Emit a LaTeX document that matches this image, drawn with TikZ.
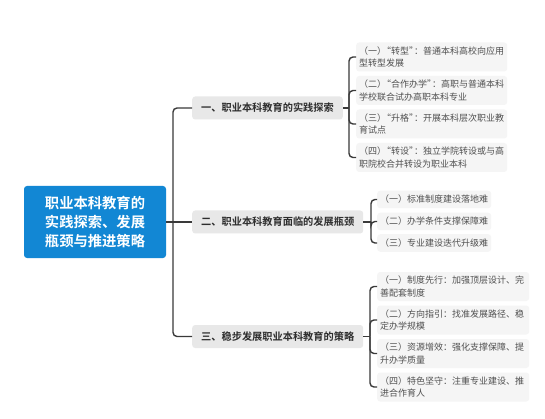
\documentclass[tikz,border=0pt]{standalone}
\usepackage{fontspec}
\newfontfamily\cjk{Noto Sans CJK SC}
\newfontfamily\cjkb{Noto Sans CJK SC Bold}
\definecolor{rootblue}{HTML}{1287D4}
\definecolor{branchgray}{HTML}{E8E8E8}
\definecolor{leafgray}{HTML}{F5F5F5}
\definecolor{branchtext}{HTML}{2E2E2E}
\definecolor{leaftext}{HTML}{505050}
\definecolor{linecol}{HTML}{3A3A3A}
\newcommand{\myopq}{\makebox[0.55em][r]{“}}
\newcommand{\myclq}{\makebox[0.55em][l]{”}}
\begin{document}
\begin{tikzpicture}[x=1pt,y=-1pt,
  rootbox/.style={fill=rootblue, rounded corners=3pt, text=white,
    font=\cjkb\fontsize{14.3}{19}\selectfont, align=center,
    minimum width=142pt, minimum height=72pt, inner sep=0pt},
  branchbox/.style={fill=branchgray, rounded corners=3pt, text=branchtext,
    font=\cjkb\fontsize{10.2}{12}\selectfont, anchor=west,
    minimum height=23pt, inner xsep=9pt, inner ysep=0pt},
  leafbox/.style={fill=leafgray, rounded corners=3pt, text=leaftext,
    font=\cjk\fontsize{9}{12.5}\selectfont, anchor=west, align=left,
    inner xsep=3pt, inner ysep=2pt},
  leaftwo/.style={leafbox, minimum height=29pt},
  leafone/.style={leafbox, minimum height=17.5pt},
  conn/.style={draw=linecol, line width=1.4pt, rounded corners=4pt}
]
\useasboundingbox (0,0) rectangle (545,419);
\fill[white] (0,0) rectangle (545,419);

\node[rootbox] (root) at (95,222) {职业本科教育的\\实践探索、发展\\瓶颈与推进策略};

\node[branchbox] (b1) at (192,108) {一、职业本科教育的实践探索};
\node[branchbox] (b2) at (192,222) {二、职业本科教育面临的发展瓶颈};
\node[branchbox] (b3) at (192,336.5) {三、稳步发展职业本科教育的策略};

\node[leaftwo, text width=145pt] (l11) at (356,57) {（一）\myopq 转型\myclq ：普通本科高校向应用\\型转型发展};
\node[leaftwo, text width=145pt] (l12) at (356,90.5) {（二）\myopq 合作办学\myclq ：高职与普通本科\\学校联合试办高职本科专业};
\node[leaftwo, text width=145pt] (l13) at (356,124) {（三）\myopq 升格\myclq ：开展本科层次职业教\\育试点};
\node[leaftwo, text width=145pt] (l14) at (356,157.5) {（四）\myopq 转设\myclq ：独立学院转设或与高\\职院校合并转设为职业本科};

\node[leafone] (l21) at (377,199.5) {（一）标准制度建设落地难};
\node[leafone] (l22) at (377,221.5) {（二）办学条件支撑保障难};
\node[leafone] (l23) at (377,243) {（三）专业建设迭代升级难};

\node[leaftwo, text width=146pt] (l31) at (377,286.5) {（一）制度先行：加强顶层设计、完\\善配套制度};
\node[leaftwo, text width=146pt] (l32) at (377,320) {（二）方向指引：找准发展路径、稳\\定办学规模};
\node[leaftwo, text width=146pt] (l33) at (377,353.5) {（三）资源增效：强化支撑保障、提\\升办学质量};
\node[leaftwo, text width=146pt] (l34) at (377,387) {（四）特色坚守：注重专业建设、推\\进合作育人};

\coordinate (trunk) at (173,222);
\draw[conn] (root.east) -- (b2.west);
\draw[conn] (trunk) |- (b1.west);
\draw[conn] (trunk) |- (b3.west);

\coordinate (j1) at (349,108);
\draw[conn] (b1.east) -- (j1);
\foreach \n in {l11,l12,l13,l14} \draw[conn] (j1) |- (\n.west);

\coordinate (j2) at (371,222);
\draw[conn] (b2.east) -- (j2);
\foreach \n in {l21,l22,l23} \draw[conn] (j2) |- (\n.west);

\coordinate (j3) at (370,336.5);
\draw[conn] (b3.east) -- (j3);
\foreach \n in {l31,l32,l33,l34} \draw[conn] (j3) |- (\n.west);
\end{tikzpicture}
\end{document}
